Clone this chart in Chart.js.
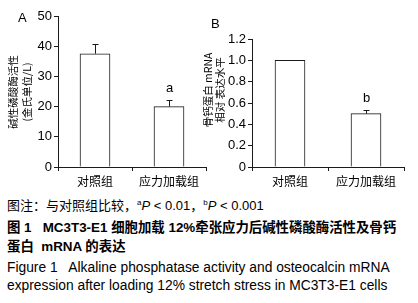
<!DOCTYPE html>
<html>
<head>
<meta charset="utf-8">
<script src="https://cdn.jsdelivr.net/npm/chart.js@4"></script>
<style>
  body { margin: 0; background: #fff; }
  #wrap { position: relative; width: 418px; height: 303px; overflow: hidden; font-family: "Liberation Sans", Arial, "Noto Sans CJK SC", sans-serif; color: #000; }
  canvas { position: absolute; top: 0; }
  #chartA { left: 0; }
  #chartB { left: 196px; }
  .panel { position: absolute; font-size: 13px; line-height: 13px; }
  .cap { position: absolute; left: 7px; height: 14px; font-size: 13px; line-height: 14px; white-space: pre; }
  .cap sup { font-size: 8px; vertical-align: baseline; position: relative; top: -5px; line-height: 0; }
  .b { font-weight: bold; font-size: 13.4px; }
  .en { font-size: 13.8px; }
</style>
</head>
<body>
<div id="wrap">
  <canvas id="chartA" width="210" height="195"></canvas>
  <canvas id="chartB" width="222" height="195"></canvas>
  <div class="panel" style="left:18px;top:11px;">A</div>
  <div class="panel" style="left:211px;top:17px;">B</div>
  <div class="cap" style="top:199px;">图注：与对照组比较，<sup>a</sup><i>P</i> &lt; 0.01，<sup>b</sup><i>P</i> &lt; 0.001</div>
  <div class="cap b" style="top:221px;">图 1   MC3T3-E1 细胞加载 12%牵张应力后碱性磷酸酶活性及骨钙</div>
  <div class="cap b" style="top:240px;">蛋白  mRNA 的表达</div>
  <div class="cap en" style="top:261px;">Figure 1   Alkaline phosphatase activity and osteocalcin mRNA</div>
  <div class="cap en" style="top:279px;">expression after loading 12% stretch stress in MC3T3-E1 cells</div>
</div>
<script>
const categories = ["对照组", "应力加载组"];

// A: alkaline phosphatase activity (King units/L)
const alpValues = [37.5, 20.0];
const alpErrors = [3.2, 2.2];
const alpMarks = ["", "a"];
const alpTicks = [0, 10, 20, 30, 40, 50];
const alpTickLabels = ["0", "10", "20", "30", "40", "50"];
const alpTitle = ["碱性磷酸酶活性", "(金氏单位/L)"];

// B: osteocalcin mRNA relative expression
const ocnValues = [1.0, 0.5];
const ocnErrors = [0, 0.035];
const ocnMarks = ["", "b"];
const ocnTicks = [0, 0.2, 0.4, 0.6, 0.8, 1.0, 1.2];
const ocnTickLabels = ["0", "0.2", "0.4", "0.6", "0.8", "1.0", "1.2"];
const ocnTitle = ["骨钙蛋白 mRNA", "相对 表达水平"];

const ink = "#1a1a1a";
const cjk = "'Noto Sans CJK SC', sans-serif";
const latin = "'Liberation Sans', Arial, sans-serif";

// error bars and significance letters, drawn through the scales
const errorBars = {
  id: "errorBars",
  afterDatasetsDraw(chart, args, opts) {
    const ctx = chart.ctx;
    const x = chart.scales.x, y = chart.scales.y;
    ctx.save();
    ctx.strokeStyle = ink;
    ctx.lineWidth = 1;
    opts.values.forEach((v, i) => {
      const cx = Math.round(x.getPixelForValue(i)) + 0.5;
      const top = y.getPixelForValue(v + opts.errors[i]);
      if (opts.errors[i] > 0) {
        const base = y.getPixelForValue(v);
        ctx.beginPath();
        ctx.moveTo(cx, base);
        ctx.lineTo(cx, Math.round(top) + 0.5);
        ctx.moveTo(cx - 3, Math.round(top) + 0.5);
        ctx.lineTo(cx + 3, Math.round(top) + 0.5);
        ctx.stroke();
      }
      if (opts.marks[i]) {
        ctx.fillStyle = "#000";
        ctx.font = "13px " + latin;
        ctx.textAlign = "center";
        ctx.textBaseline = "middle";
        ctx.fillText(opts.marks[i], cx, top - 12);
      }
    });
    ctx.restore();
  }
};

// rotated y-axis caption
const sideTitle = {
  id: "sideTitle",
  afterDraw(chart, args, opts) {
    const ctx = chart.ctx;
    ctx.save();
    ctx.fillStyle = "#000";
    ctx.font = "10.5px " + cjk;
    ctx.textAlign = "center";
    ctx.textBaseline = "middle";
    opts.lines.forEach((t, i) => {
      ctx.save();
      ctx.translate(opts.x[i], opts.cy);
      ctx.rotate(-Math.PI / 2);
      ctx.fillText(t, 0, 0);
      ctx.restore();
    });
    ctx.restore();
  }
};

function makeChart(id, values, errors, marks, ticks, tickLabels, title, axisW, pad, titleX, titleY) {
  return new Chart(document.getElementById(id), {
    type: "bar",
    data: {
      labels: categories,
      datasets: [{
        data: values,
        backgroundColor: "#fff",
        borderColor: ink,
        borderWidth: 1,
        barThickness: 30
      }]
    },
    options: {
      responsive: false,
      animation: false,
      layout: { padding: pad },
      plugins: {
        legend: { display: false },
        tooltip: { enabled: false },
        errorBars: { values: values, errors: errors, marks: marks },
        sideTitle: { lines: title, x: titleX, cy: titleY }
      },
      scales: {
        x: {
          offset: true,
          grid: { offset: true, drawOnChartArea: false, drawTicks: true, tickLength: 4, color: ink },
          border: { display: true, color: ink, width: 1 },
          ticks: { color: "#000", padding: 3, font: { size: 12, family: cjk } },
          afterFit(s) { s.height = 28; }
        },
        y: {
          min: ticks[0],
          max: ticks[ticks.length - 1],
          afterBuildTicks(s) { s.ticks = ticks.map(v => ({ value: v })); },
          grid: { drawOnChartArea: false, drawTicks: true, tickLength: 4, color: ink },
          border: { display: true, color: ink, width: 1 },
          ticks: {
            color: "#000",
            padding: 2,
            font: { size: 13, family: latin },
            callback: (v, i) => tickLabels[i]
          },
          afterFit(s) { s.width = axisW; }
        }
      }
    },
    plugins: [errorBars, sideTitle]
  });
}

makeChart("chartA", alpValues, alpErrors, alpMarks, alpTicks, alpTickLabels, alpTitle,
  58, { left: 0, right: 4, top: 16, bottom: 0 }, [13.5, 27.5], 92);
makeChart("chartB", ocnValues, ocnErrors, ocnMarks, ocnTicks, ocnTickLabels, ocnTitle,
  56, { left: 0, right: 14, top: 39, bottom: 0 }, [12, 24], 90);
</script>
</body>
</html>
